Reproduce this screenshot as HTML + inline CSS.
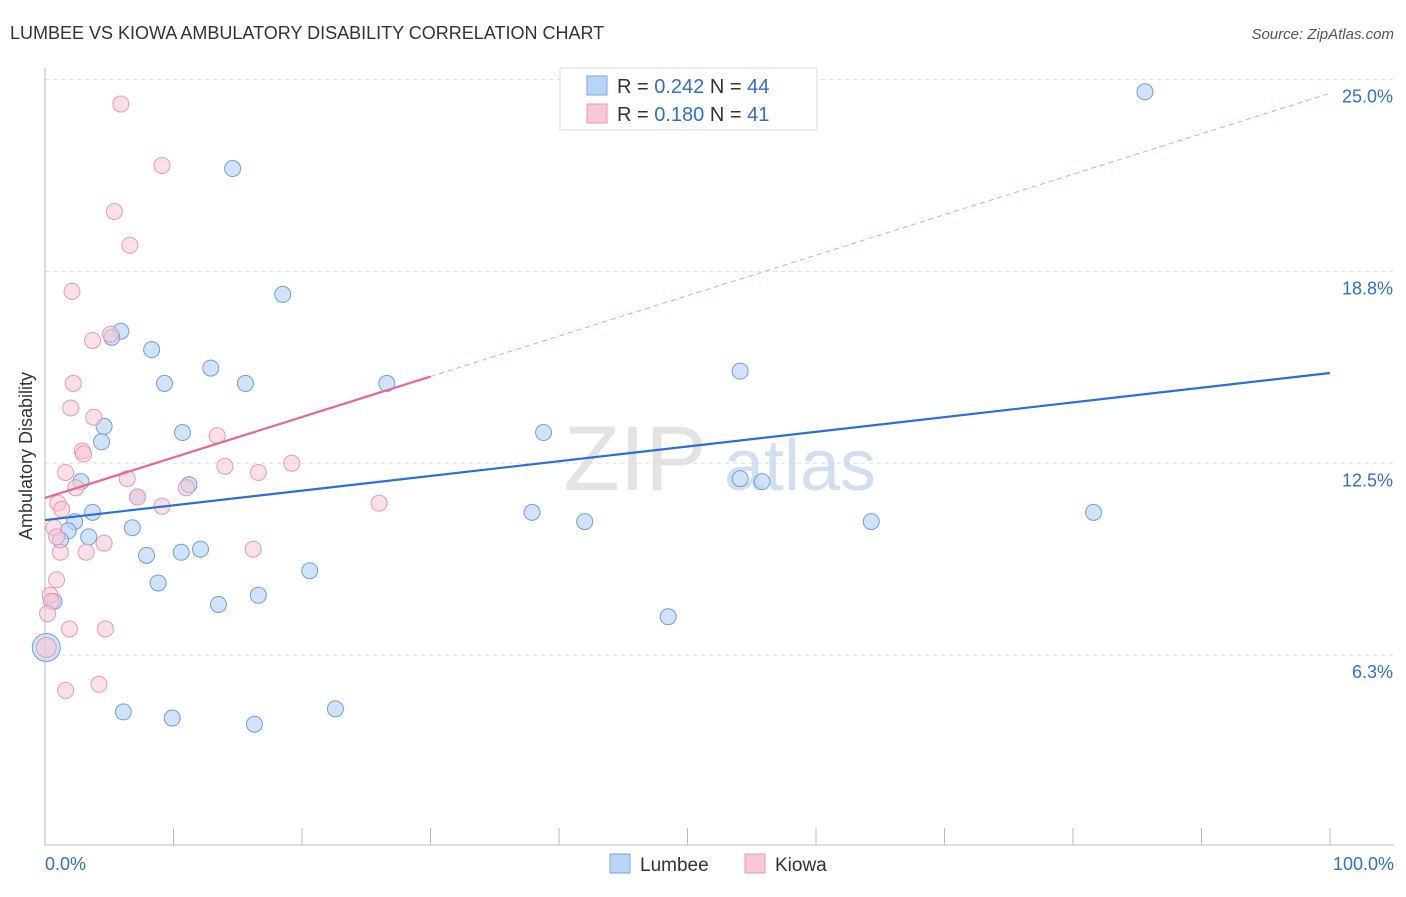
<!DOCTYPE html>
<html><head><meta charset="utf-8"><style>
body{margin:0;background:#fff;font-family:"Liberation Sans",sans-serif}
svg text{font-family:"Liberation Sans",sans-serif}
</style></head><body>
<svg id="chart" width="1406" height="892">
<text x="10" y="39" font-size="18" fill="#333">LUMBEE VS KIOWA AMBULATORY DISABILITY CORRELATION CHART</text>
<text x="1394" y="39" font-size="15" fill="#555" font-style="italic" text-anchor="end">Source: ZipAtlas.com</text>
<text x="32" y="456" font-size="18" fill="#333" text-anchor="middle" transform="rotate(-90 32 456)">Ambulatory Disability</text>
<g id="grid"></g>
<g><text x="635" y="490" font-size="92" fill="#ddd" font-family="Liberation Serif" text-anchor="middle" opacity="0.8">ZIP</text><text x="800" y="490" font-size="72" fill="#c6d8ee" text-anchor="middle" opacity="0.8">atlas</text></g>
<g id="marks"></g>
<g id="legend">
<rect x="560" y="68" width="257" height="62" fill="#fff" stroke="#ddd"/>
<rect x="587" y="76" width="20" height="19" fill="#b9d4f5" stroke="#7aa6e0"/>
<rect x="587" y="104" width="20" height="19" fill="#f8c6d6" stroke="#e79ab2"/>
<text x="617" y="93" font-size="20" fill="#333">R = <tspan fill="#2f6fd0">0.242</tspan>   N = <tspan fill="#2f6fd0">44</tspan></text>
<text x="617" y="121" font-size="20" fill="#333">R = <tspan fill="#2f6fd0"> 0.180</tspan>   N = <tspan fill="#2f6fd0"> 41</tspan></text>
</g>
<g>
<rect x="610" y="854" width="20" height="19" fill="#b9d4f5" stroke="#7aa6e0"/>
<text x="640" y="871" font-size="19" fill="#333">Lumbee</text>
<rect x="745" y="854" width="20" height="19" fill="#f8c6d6" stroke="#e79ab2"/>
<text x="775" y="871" font-size="19" fill="#333">Kiowa</text>
</g>
</svg>
<script>
const yTicks=[6.25,12.5,18.75,25];
const yTickLabels=["6.3%","12.5%","18.8%","25.0%"];
const xTickLabels=["0.0%","100.0%"];
const lumbeeX=[85.6,14.6,18.5,5.9,5.2,8.3,12.9,9.3,15.6,26.6,54.1,4.6,10.7,38.8,4.4,2.8,11.2,54.1,55.8,7.2,3.7,37.9,81.6,2.3,42.0,64.3,6.8,1.8,3.4,1.2,7.9,10.6,12.1,20.6,8.8,16.6,13.5,0.7,48.5,0.1,6.1,9.9,16.3,22.6];
const lumbeeY=[24.6,22.1,18.0,16.8,16.6,16.2,15.6,15.1,15.1,15.1,15.5,13.7,13.5,13.5,13.2,11.9,11.8,12.0,11.9,11.4,10.9,10.9,10.9,10.6,10.6,10.6,10.4,10.3,10.1,10.0,9.5,9.6,9.7,9.0,8.6,8.2,7.9,8.0,7.5,6.5,4.4,4.2,4.0,4.5];
const kiowaX=[5.9,9.1,5.4,6.6,2.1,5.1,3.7,2.2,2.0,3.8,13.4,2.9,3.0,19.2,14.0,1.6,16.6,6.4,2.4,11.0,7.2,1.0,26.0,9.1,1.3,0.7,0.9,4.6,16.2,3.2,1.2,0.9,0.4,0.5,0.2,1.9,4.7,0.1,4.2,1.6];
const kiowaY=[24.2,22.2,20.7,19.6,18.1,16.7,16.5,15.1,14.3,14.0,13.4,12.9,12.8,12.5,12.4,12.2,12.2,12.0,11.7,11.7,11.4,11.2,11.2,11.1,11.0,10.4,10.1,9.9,9.7,9.6,9.6,8.7,8.2,8.0,7.6,7.1,7.1,6.5,5.3,5.1];
const lumbeeTrend=[10.65,15.44];
const kiowaTrend=[11.37,24.55];
const kiowaSolidEnd=30;
const NS="http://www.w3.org/2000/svg";
const X=v=>45+v*12.85, Y=v=>847-v*30.7;
function mk(tag,attrs,parent){const e=document.createElementNS(NS,tag);for(const k in attrs)e.setAttribute(k,attrs[k]);parent.appendChild(e);return e;}
const grid=document.getElementById('grid'), marks=document.getElementById('marks'), svg=document.getElementById('chart');
yTicks.forEach((t,i)=>{
 const l=mk('line',{x1:45,x2:1394,y1:Y(t),y2:Y(t),stroke:'#ddd','stroke-dasharray':'4,4'},grid);
 
 
 const tx=mk('text',{x:1393,y:Y(t)+23,'font-size':18,fill:'#2f6fd0','text-anchor':'end'},grid);tx.textContent=yTickLabels[i];
 
 
});
const ax=mk('line',{x1:45,x2:1394,y1:845,y2:845,stroke:'#bbb'},grid);


const ay=mk('line',{x1:45,x2:45,y1:68,y2:845,stroke:'#bbb'},grid);


for(let i=0;i<=10;i++){const t=mk('line',{x1:X(i*10),x2:X(i*10),y1:828,y2:845,stroke:'#bbb'},grid);
 
 }
[[0,'start',45],[100,'end',1394]].forEach((d,i)=>{const t=mk('text',{x:d[2],y:870,'font-size':18,fill:'#2f6fd0','text-anchor':d[1]},grid);t.textContent=xTickLabels[i];
 
 });
lumbeeX.forEach((x,i)=>{const c=mk('circle',{cx:X(x),cy:Y(lumbeeY[i]),r:i==39?14:8,fill:'#b9d4f5','fill-opacity':0.65,stroke:'#6d9fdd','stroke-width':1},marks);
 
 });
kiowaX.forEach((x,i)=>{const c=mk('circle',{cx:X(x),cy:Y(kiowaY[i]),r:i==37?10:8,fill:'#f8c6d6','fill-opacity':0.55,stroke:'#e79ab2','stroke-width':1},marks);
 
 });
const lt=mk('line',{x1:X(0),y1:Y(lumbeeTrend[0]),x2:X(100),y2:Y(lumbeeTrend[1]),stroke:'#2a6fd6','stroke-width':2.2},marks);


const kAt=v=>kiowaTrend[0]+(kiowaTrend[1]-kiowaTrend[0])*v/100;
const kd=mk('line',{x1:X(kiowaSolidEnd),y1:Y(kAt(kiowaSolidEnd)),x2:X(100),y2:Y(kiowaTrend[1]),stroke:'#e8a0b6','stroke-width':1,'stroke-dasharray':'5,4'},marks);


const kt=mk('line',{x1:X(0),y1:Y(kiowaTrend[0]),x2:X(kiowaSolidEnd),y2:Y(kAt(kiowaSolidEnd)),stroke:'#e8668f','stroke-width':2.2},marks);


</script>
</body></html>
